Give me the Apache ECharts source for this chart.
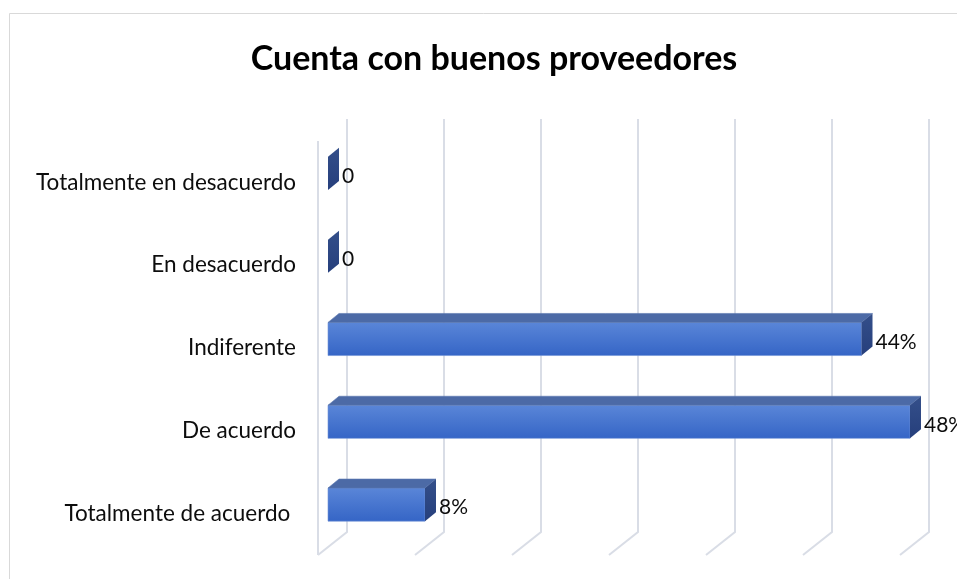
<!DOCTYPE html>
<html>
<head>
<meta charset="utf-8">
<script src="https://cdn.jsdelivr.net/npm/echarts@6/dist/echarts.min.js"></script>
<style>
  html, body { margin: 0; padding: 0; background: #ffffff; }
  #chart { width: 957px; height: 579px; }
</style>
</head>
<body>
<div id="chart"></div>
<script>
// datos (de arriba hacia abajo)
const categories = [
  'Totalmente en desacuerdo',
  'En desacuerdo',
  'Indiferente',
  'De acuerdo',
  'Totalmente de acuerdo '
]
const values = [0, 0, 44, 48, 8]
const valueLabels = ['0', '0', '44%', '48%', '8%']
const ticks = [0, 8, 16, 24, 32, 40, 48]

const FONT = 'Lato, "Noto Sans", sans-serif'
// desplazamientos de la perspectiva oblicua
const BAR_OFF = [10, -9]    // cara frontal de la barra respecto al plano frontal
const DEPTH = [11, -9]      // profundidad de la barra
const BACK_OFF = [29, -22]  // pared del fondo

const chart = echarts.init(document.getElementById('chart'))

const barData = values.map((v, i) => [v, i])
const gridData = ticks.map(t => [t, 0])

const option = {
  backgroundColor: '#ffffff',
  animation: false,
  title: {
    text: 'Cuenta con buenos proveedores',
    left: 489,
    top: 37,
    textAlign: 'center',
    textStyle: { fontFamily: FONT, fontWeight: 'bold', fontSize: 34, color: '#000000' }
  },
  graphic: [
    {
      type: 'rect',
      shape: { x: 9.5, y: 13.5, width: 1000, height: 1000 },
      style: { fill: 'none', stroke: '#d9d9d9', lineWidth: 1 },
      silent: true
    }
  ],
  grid: { left: 318, top: 141, width: 582, height: 414, containLabel: false },
  xAxis: {
    type: 'value',
    min: 0,
    max: 48,
    interval: 8,
    axisLine: { show: false },
    axisTick: { show: false },
    axisLabel: { show: false },
    splitLine: { show: false }
  },
  yAxis: {
    type: 'category',
    data: categories,
    inverse: true,
    axisLine: { show: false },
    axisTick: { show: false },
    axisLabel: {
      margin: 22,
      fontFamily: FONT,
      fontSize: 22.5,
      color: '#0d0d0d',
      padding: [6, 0, 0, 0]
    },
    splitLine: { show: false }
  },
  series: [
    {
      // lineas de division en la pared del fondo y el suelo
      type: 'custom',
      z: 1,
      silent: true,
      data: gridData,
      encode: { x: 0, y: 1 },
      renderItem: function (params, api) {
        const cs = params.coordSys
        const px = api.coord([api.value(0), 0])[0]
        const top = cs.y
        const bottom = cs.y + cs.height
        const style = { stroke: '#d9dde6', lineWidth: 2, fill: null }
        const children = [{
          type: 'polyline',
          shape: { points: [[px + BACK_OFF[0], top + BACK_OFF[1]], [px + BACK_OFF[0], bottom + BACK_OFF[1] - 1], [px, bottom]] },
          style: style
        }]
        if (api.value(0) === 0) {
          children.push({
            type: 'line',
            shape: { x1: px, y1: top, x2: px, y2: bottom },
            style: style
          })
        }
        return { type: 'group', children: children }
      }
    },
    {
      // barras en 3D
      type: 'custom',
      z: 2,
      data: barData,
      encode: { x: 0, y: 1 },
      renderItem: function (params, api) {
        const v = api.value(0)
        const c = api.value(1)
        const p0 = api.coord([0, c])
        const p1 = api.coord([v, c])
        const h = api.size([0, 1])[1] * 0.4
        const x0 = p0[0] + BAR_OFF[0]
        const x1 = p1[0] + BAR_OFF[0]
        const yc = p0[1] + BAR_OFF[1]
        const yt = yc - h / 2
        const yb = yc + h / 2
        const dx = DEPTH[0]
        const dy = DEPTH[1]
        const children = []
        if (x1 > x0) {
          children.push({
            type: 'rect',
            shape: { x: x0, y: yt, width: x1 - x0, height: h },
            style: {
              fill: new echarts.graphic.LinearGradient(0, 0, 0, 1, [
                { offset: 0, color: '#5a86d8' },
                { offset: 1, color: '#3565c6' }
              ]),
              stroke: '#6f92d6',
              lineWidth: 0.6
            }
          })
          children.push({
            type: 'polygon',
            shape: { points: [[x0, yt], [x1, yt], [x1 + dx, yt + dy], [x0 + dx, yt + dy]] },
            style: { fill: '#4c6aa6', stroke: '#5a77b0', lineWidth: 0.6 }
          })
        }
        children.push({
          type: 'polygon',
          shape: { points: [[x1, yt], [x1 + dx, yt + dy], [x1 + dx, yb + dy], [x1, yb]] },
          style: {
            fill: new echarts.graphic.LinearGradient(0, 0, 0, 1, [
              { offset: 0, color: '#344f8a' },
              { offset: 1, color: '#263f7c' }
            ])
          }
        })
        children.push({
          type: 'text',
          style: {
            text: valueLabels[params.dataIndex],
            x: x1 + dx + 3,
            y: yc + 3,
            verticalAlign: 'middle',
            fontFamily: FONT,
            fontSize: 21,
            fill: '#0d0d0d'
          }
        })
        return { type: 'group', children: children }
      }
    }
  ]
}

chart.setOption(option)
</script>
</body>
</html>
